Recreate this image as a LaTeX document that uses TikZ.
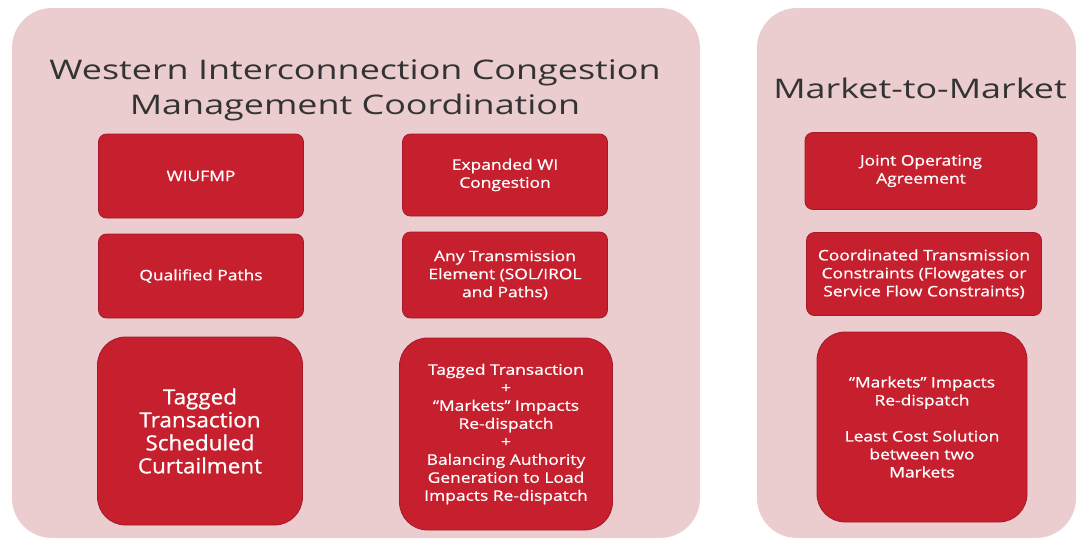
\documentclass[tikz,border=0pt]{standalone}
\usepackage{fontspec}
\setmainfont{Open Sans}
\newfontfamily\titlefont[FakeStretch=1.33]{Open Sans}
\newfontfamily\cellfont[FakeStretch=1.2,FakeBold=0.8]{Open Sans}
\newfontfamily\bigcellfont[FakeStretch=1.07,FakeBold=0.8]{Open Sans}
\usetikzlibrary{positioning}
\definecolor{panelpink}{HTML}{EBCDD0}
\definecolor{cellred}{HTML}{C61F2E}
\definecolor{celledge}{HTML}{A5192A}
\definecolor{titlegray}{HTML}{333333}
\tikzset{
  panel/.style={fill=panelpink,draw=none,rounded corners=40pt},
  cell/.style={rectangle,fill=cellred,draw=celledge,line width=0.8pt,
    rounded corners=8pt,text=white,align=center,inner sep=2pt,
    font=\cellfont\fontsize{14.5}{18}\selectfont},
  bigcell/.style={cell,rounded corners=28pt},
  paneltitle/.style={text=titlegray,align=center,
    font=\titlefont\fontsize{27}{35}\selectfont}
}
\begin{document}
\begin{tikzpicture}[x=1pt,y=-1pt]
\useasboundingbox (0,0) rectangle (1076,541);
% the two backgrounds
\path[panel] (12,8) rectangle (700,538);
\path[panel] (757,8) rectangle (1076,538);
% left: WI congestion management
\node[paneltitle] (wititle) at (355,90)
  {Western Interconnection Congestion\\Management Coordination};
\node[cell,minimum width=205pt,minimum height=84pt] (wiufmp) at (201,176) {WIUFMP};
\node[cell,minimum width=205pt,minimum height=84pt] (qualpaths) at (201,276) {Qualified Paths};
\node[bigcell,minimum width=205pt,minimum height=188pt,
  font=\bigcellfont\fontsize{21}{23}\selectfont] (curtail) at (200,431)
  {Tagged\\Transaction\\Scheduled\\Curtailment};
\node[cell,minimum width=205pt,minimum height=82pt] (expanded) at (505,175)
  {Expanded WI\\Congestion};
\node[cell,minimum width=205pt,minimum height=86pt] (anyelem) at (505,275)
  {Any Transmission\\Element (SOL/IROL\\and Paths)};
\node[bigcell,minimum width=213pt,minimum height=192pt] (redispatch) at (506,434)
  {Tagged Transaction\\+\\“Markets” Impacts\\Re-dispatch\\+\\Balancing Authority\\Generation to Load\\Impacts Re-dispatch};
% right: market to market
\node[paneltitle] (mmtitle) at (920,88) {Market-to-Market};
\node[cell,minimum width=232pt,minimum height=77pt] (joa) at (921,171)
  {Joint Operating\\Agreement};
\node[cell,minimum width=235pt,minimum height=83pt] (coordtx) at (924,274)
  {Coordinated Transmission\\Constraints (Flowgates or\\Service Flow Constraints)};
\node[bigcell,minimum width=210pt,minimum height=190pt] (leastcost) at (922,427)
  {“Markets” Impacts\\Re-dispatch\\[18pt]Least Cost Solution\\between two\\Markets};
\end{tikzpicture}
\end{document}
